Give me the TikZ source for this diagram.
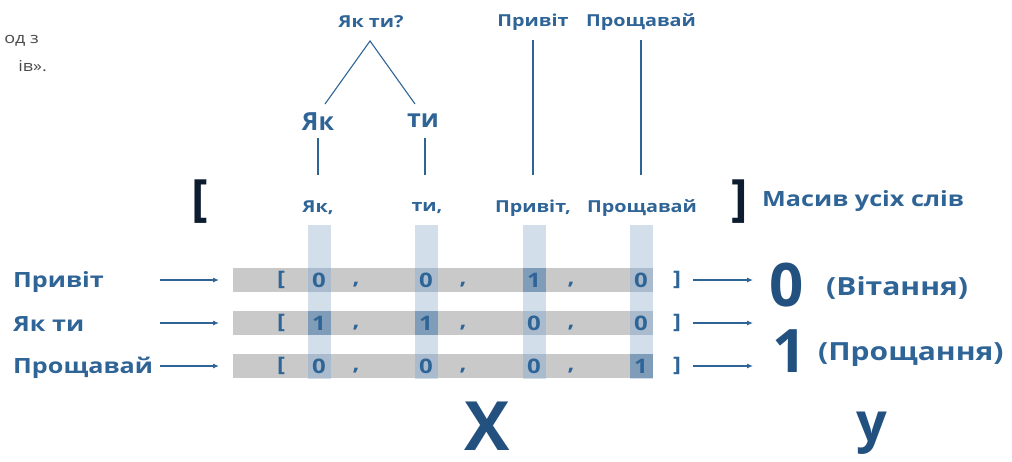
\documentclass[tikz,border=0pt]{standalone}
\usepackage{fontspec}
\setmainfont{Open Sans}
\newfontfamily\widefont{Open Sans}[FakeStretch=1.2]
\usetikzlibrary{arrows.meta}
\definecolor{txtblue}{HTML}{2F6496}
\definecolor{deepblue}{HTML}{22507F}
\definecolor{navy}{HTML}{0E1C30}
\definecolor{bargray}{HTML}{C9C9C9}
\definecolor{colblue}{HTML}{D2DFEB}
\definecolor{cellblue}{HTML}{A9BBCD}
\definecolor{hotblue}{HTML}{7F9CB9}
\definecolor{greytxt}{HTML}{4A4A4A}
\tikzset{
  word/.style={text=txtblue, font=\widefont\bfseries\fontsize{16.5}{16.5}\selectfont, inner sep=0pt},
  bigword/.style={text=txtblue, font=\bfseries\fontsize{25}{25}\selectfont, inner sep=0pt},
  rowlabel/.style={text=txtblue, font=\widefont\bfseries\fontsize{21}{21}\selectfont, inner sep=0pt, anchor=base west},
  cell/.style={text=txtblue, font=\widefont\bfseries\fontsize{20}{20}\selectfont, inner sep=0pt},
  link/.style={draw=txtblue, line width=1.1pt},
  feed/.style={draw=txtblue, line width=1.1pt, -{Latex[length=6pt,width=5pt]}},
  bar/.style={fill=bargray, draw=none},
  column/.style={fill=colblue, draw=none},
  bracket/.style={text=navy, font=\bfseries\fontsize{50}{50}\selectfont, inner sep=0pt},
  result/.style={text=deepblue, font=\bfseries\fontsize{60}{60}\selectfont, inner sep=0pt},
  note/.style={text=txtblue, font=\widefont\bfseries\fontsize{21}{21}\selectfont, inner sep=0pt},
  tag/.style={text=txtblue, font=\widefont\bfseries\fontsize{25}{25}\selectfont, inner sep=0pt},
  frag/.style={text=greytxt, font=\widefont\fontsize{15}{15}\selectfont, anchor=base east, inner sep=0pt},
}
\begin{document}
\begin{tikzpicture}[x=1pt,y=-1pt]
\useasboundingbox (0,0) rectangle (1012,461);
% paragraph fragment at the top left
\node[frag] (frag1) at (39,43) {од з};
\node[frag] (frag2) at (47,71) {ів».};

% vocabulary columns and one-hot rows
\foreach \cx in {319,426,534,641} {
  \fill[column] (\cx-11.5,225) rectangle (\cx+11.5,379);
}
\foreach \cy in {280,323,366} {
  \fill[bar] (233,\cy-12) rectangle (653,\cy+12);
  \foreach \cx in {319,426,534,641}
    \fill[cellblue] (\cx-11.5,\cy-12) rectangle (\cx+11.5,\cy+12);
}
\fill[hotblue] (534-11.5,268) rectangle (534+11.5,292);
\fill[hotblue] (319-11.5,311) rectangle (319+11.5,335);
\fill[hotblue] (426-11.5,311) rectangle (426+11.5,335);
\fill[hotblue] (641-11.5,354) rectangle (641+11.5,378);

% top: phrase split into words
\node[word] (q) at (371,22) {Як ти?};
\node[bigword] (w1) at (318,122) {Як};
\node[bigword] (w2) at (423,121) {ти};
\node[word] (t3) at (533,22) {Привіт};
\node[word] (t4) at (641,22) {Прощавай};
\coordinate (apex) at (370,41);
\coordinate (l1) at (325,104);
\coordinate (l2) at (415,104);
\draw[link] (l1) -- (apex) -- (l2);

% vocabulary entries
\node[word] (v1) at (318,208) {Як,};
\node[word] (v2) at (427,208) {ти,};
\node[word] (v3) at (533,208) {Привіт,};
\node[word] (v4) at (642,208) {Прощавай};
\draw[link] (318,138) -- (318,175);
\draw[link] (425,138) -- (425,175);
\draw[link] (533,40) -- (533,175);
\draw[link] (641,40) -- (641,175);
\node[bracket] (lb) at (200,202) {[};
\node[bracket] (rb) at (740,202) {]};
\node[note, anchor=west] (vocab) at (762,201) {Масив усіх слів};

% input sentences
\node[rowlabel] (s1) at (13,287) {Привіт};
\node[rowlabel] (s2) at (13,331) {Як ти};
\node[rowlabel] (s3) at (13,373) {Прощавай};
\coordinate (a1) at (160,280); \coordinate (b1) at (219,280);
\coordinate (a2) at (160,323); \coordinate (b2) at (219,323);
\coordinate (a3) at (160,366); \coordinate (b3) at (219,366);
\draw[feed] (a1) -- (b1);
\draw[feed] (a2) -- (b2);
\draw[feed] (a3) -- (b3);

% vector entries
\foreach \cy/\va/\vb/\vc/\vd in {280/0/0/1/0, 323/1/1/0/0, 366/0/0/0/1} {
  \node[cell] at (281,\cy) {[};
  \node[cell] at (319,\cy) {\va};
  \node[cell] at (426,\cy) {\vb};
  \node[cell] at (534,\cy) {\vc};
  \node[cell] at (641,\cy) {\vd};
  \node[cell] at (356,\cy+5) {,};
  \node[cell] at (463,\cy+5) {,};
  \node[cell] at (571,\cy+5) {,};
  \node[cell] at (677,\cy) {]};
}

% class labels
\coordinate (c1) at (693,280); \coordinate (d1) at (753,280);
\coordinate (c2) at (693,323); \coordinate (d2) at (753,323);
\coordinate (c3) at (693,366); \coordinate (d3) at (753,366);
\draw[feed] (c1) -- (d1);
\draw[feed] (c2) -- (d2);
\draw[feed] (c3) -- (d3);
\node[result] (y0) at (787,285) {0};
\node[result] (y1) at (790,351) {1};
\node[tag, anchor=west] (n0) at (826,288) {(Вітання)};
\node[tag, anchor=west] (n1) at (818,355) {(Прощання)};

% matrix names
\node[text=deepblue, font=\bfseries\fontsize{68}{68}\selectfont, inner sep=0pt] (X) at (487,426) {X};
\node[text=deepblue, font=\bfseries\fontsize{54}{54}\selectfont, inner sep=0pt] (Y) at (872,433) {y};
\end{tikzpicture}
\end{document}
